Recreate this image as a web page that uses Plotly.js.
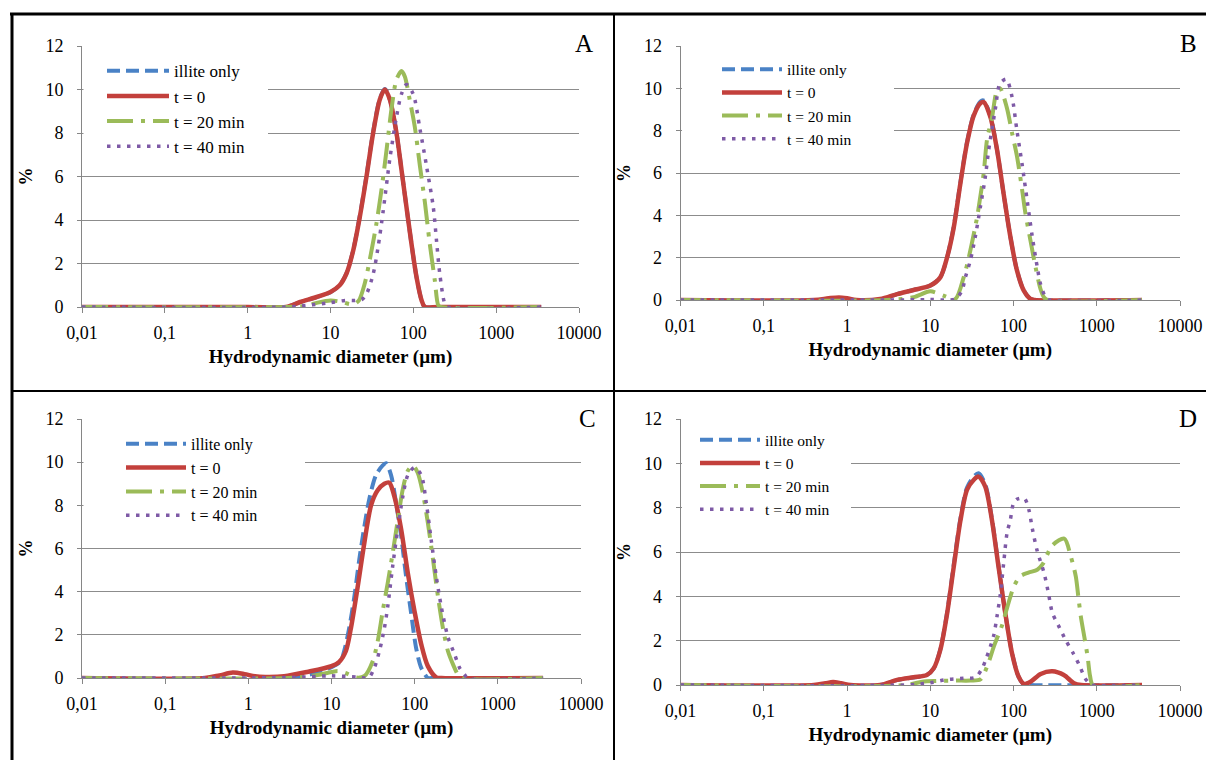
<!DOCTYPE html>
<html>
<head>
<meta charset="utf-8">
<script src="https://cdn.plot.ly/plotly-3.0.1.min.js"></script>
<style>
  html, body { margin: 0; padding: 0; background: #ffffff; }
  #chart { width: 1206px; height: 760px; }
</style>
</head>
<body>
<div id="chart"></div>
<script>
// ---------------- DATA ----------------
const seriesNames = ['illite only', 't = 0', 't = 20 min', 't = 40 min'];
const panelLabels = ['A', 'B', 'C', 'D'];
const xTickVals = [0.01, 0.1, 1, 10, 100, 1000, 10000];
const xTickText = ['0,01', '0,1', '1', '10', '100', '1000', '10000'];
const yTickVals = [0, 2, 4, 6, 8, 10, 12];
const xTitleText = 'Hydrodynamic diameter (µm)';
const yTitleText = '%';

// Panel A
const A_illite_x = [0.01, 1, 2.9, 4.3, 6.8, 10, 12.9, 15.6, 18.8, 22.6, 27.2, 32.7, 39.4, 45.3, 52, 62.6, 72, 82.6, 95, 109, 126, 138, 200, 3500];
const A_illite_y = [0, 0, 0, 0.22, 0.45, 0.68, 1.0, 1.55, 2.62, 4.2, 6.05, 8.05, 9.58, 10.02, 9.55, 8.0, 6.3, 4.6, 2.9, 1.4, 0.3, 0, 0, 0];
const A_t0_x = [0.01, 1, 2.9, 4.3, 6.8, 10, 12.9, 15.6, 18.8, 22.6, 27.2, 32.7, 39.4, 45.3, 52, 62.6, 72, 82.6, 95, 109, 126, 138, 200, 3500];
const A_t0_y = [0, 0, 0, 0.23, 0.46, 0.69, 1.0, 1.54, 2.6, 4.15, 6.0, 8.0, 9.54, 10.0, 9.54, 8.0, 6.3, 4.6, 2.9, 1.4, 0.3, 0, 0, 0];
const A_t20_x = [0.01, 3, 5, 7, 10, 13, 18.8, 22, 25.9, 31.3, 35.9, 41.3, 47.4, 54.5, 62.6, 72, 78.9, 90.7, 104, 120, 138, 158, 182, 200, 215, 3500];
const A_t20_y = [0, 0, 0.05, 0.2, 0.3, 0.25, 0.12, 0.3, 1.08, 2.6, 3.85, 5.4, 7.2, 9.1, 10.46, 10.85, 10.6, 9.5, 8.3, 6.5, 4.8, 2.9, 1.2, 0.08, 0, 0];
const A_t40_x = [0.01, 3, 6, 10, 15, 20, 24, 27.2, 32.7, 37.7, 43.2, 52, 63, 72, 82.8, 99.5, 120, 144, 174, 191, 209, 240, 260, 3500];
const A_t40_y = [0, 0, 0.1, 0.2, 0.3, 0.3, 0.35, 0.6, 1.5, 2.8, 4.4, 6.8, 8.8, 9.8, 10.23, 9.8, 8.2, 6.5, 4.6, 3.0, 1.5, 0.15, 0, 0];

// Panel B
const B_illite_x = [0.01, 2.5, 4, 6.3, 10, 13.2, 15.9, 19.1, 23, 27.6, 33.2, 40, 43.9, 52.7, 63.4, 76.2, 91.6, 110, 133, 160, 180, 3500];
const B_illite_y = [0, 0.03, 0.28, 0.47, 0.68, 1.07, 2.0, 3.45, 5.55, 7.45, 8.75, 9.38, 9.42, 8.7, 7.1, 5.0, 3.0, 1.4, 0.44, 0.05, 0, 0];
const B_t0_x = [0.01, 0.4, 0.6, 0.8, 1.0, 1.3, 2.5, 4, 6.3, 10, 13.2, 15.9, 19.1, 23, 27.6, 33.2, 40, 43.9, 52.7, 63.4, 76.2, 91.6, 110, 133, 160, 180, 3500];
const B_t0_y = [0, 0, 0.08, 0.12, 0.08, 0, 0.05, 0.28, 0.47, 0.68, 1.07, 2.0, 3.4, 5.5, 7.4, 8.7, 9.3, 9.35, 8.65, 7.1, 5.0, 3.0, 1.4, 0.44, 0.05, 0, 0];
const B_t20_x = [0.01, 3, 6.3, 10, 14.5, 20, 25.2, 29, 36.5, 40, 43.9, 48, 55.3, 63.4, 69, 83, 96, 110, 127, 139, 160, 184, 211, 232, 255, 3500];
const B_t20_y = [0, 0, 0.13, 0.41, 0.2, 0.05, 1.07, 2.0, 3.9, 4.9, 6.0, 7.55, 8.65, 9.9, 10.0, 9.1, 7.9, 6.8, 5.2, 4.1, 2.8, 1.55, 0.52, 0.13, 0, 0];
const B_t40_x = [0.01, 3, 10, 20, 24, 26.4, 30.3, 34.8, 40, 45.8, 50.4, 60.4, 69, 82, 96, 110, 127, 146, 168, 193, 211, 243, 270, 3500];
const B_t40_y = [0, 0, 0.02, 0.05, 0.44, 1.07, 1.86, 3.0, 4.4, 5.8, 7.1, 9.0, 10.24, 10.43, 9.6, 8.0, 6.4, 4.7, 3.0, 1.55, 0.76, 0.13, 0, 0];

// Panel C
const C_illite_x = [0.01, 3, 6, 10, 12.9, 14.2, 16.3, 18.8, 21.6, 24.8, 28.5, 34.3, 41.3, 45.3, 52, 59.8, 68.7, 78.9, 90.7, 104, 120, 144, 160, 3500];
const C_illite_y = [0, 0, 0.2, 0.5, 0.78, 1.25, 2.3, 3.75, 5.5, 7.0, 8.3, 9.4, 9.85, 9.95, 9.4, 8.1, 6.6, 4.7, 3.0, 1.4, 0.47, 0, 0, 0];
const C_t0_x = [0.01, 0.3, 0.45, 0.65, 0.9, 1.2, 1.6, 2.7, 5.1, 10, 12.4, 14.9, 17.1, 20.6, 24.8, 29.9, 35.9, 43.2, 49.6, 57.1, 68.7, 82.8, 99.5, 120, 144, 182, 210, 3500];
const C_t0_y = [0, 0, 0.12, 0.25, 0.18, 0.08, 0.05, 0.08, 0.28, 0.55, 0.75, 1.25, 2.3, 4.2, 6.25, 8.0, 8.7, 9.0, 9.05, 8.4, 6.9, 4.85, 3.1, 1.56, 0.55, 0.03, 0, 0];
const C_t20_x = [0.01, 3, 6, 10, 12, 15, 20, 25, 31.3, 35.9, 41.3, 47.4, 54.5, 62.6, 72, 82.8, 95, 109, 125, 144, 166, 191, 219, 251, 289, 332, 370, 3500];
const C_t20_y = [0, 0, 0.1, 0.28, 0.32, 0.22, 0.02, 0.1, 0.78, 1.7, 3.1, 4.4, 5.8, 7.3, 8.75, 9.6, 9.85, 9.5, 8.6, 7.2, 5.5, 3.75, 2.3, 1.25, 0.63, 0.15, 0, 0];
const C_t40_x = [0.01, 3, 10, 20, 28, 32.7, 37.7, 43.2, 47.4, 54.5, 62.6, 72, 82.8, 99.5, 120, 138, 158, 182, 209, 251, 302, 347, 398, 430, 3500];
const C_t40_y = [0, 0.02, 0.1, 0.05, 0.02, 0.47, 1.25, 2.3, 3.3, 5.2, 6.9, 8.4, 9.4, 9.75, 9.4, 8.1, 6.4, 4.7, 3.3, 1.9, 1.1, 0.47, 0.16, 0, 0];

// Panel D
const D_illite_x = [0.01, 2.5, 4, 6.3, 9.1, 11, 13.2, 15.9, 19.1, 23, 27.6, 33.2, 38, 45.8, 55, 66, 80, 96, 115, 133, 160, 3500];
const D_illite_y = [0, 0, 0.22, 0.34, 0.45, 0.75, 1.6, 3.25, 5.4, 7.5, 8.9, 9.4, 9.55, 9.05, 7.5, 5.4, 3.2, 1.45, 0.38, 0.03, 0, 0];
const D_t0_x = [0.01, 0.4, 0.55, 0.68, 0.85, 1.1, 2.5, 4, 6.3, 9.1, 11, 13.2, 15.9, 19.1, 23, 27.6, 33.2, 38, 45.8, 55, 66, 80, 96, 115, 133, 160, 212, 293, 403, 533, 650, 3500];
const D_t0_y = [0, 0, 0.08, 0.13, 0.08, 0, 0, 0.23, 0.35, 0.45, 0.75, 1.58, 3.2, 5.3, 7.4, 8.8, 9.25, 9.4, 8.95, 7.45, 5.35, 3.2, 1.43, 0.38, 0.05, 0.15, 0.5, 0.62, 0.45, 0.08, 0, 0];
const D_t20_x = [0.01, 5, 8, 12, 20, 30, 40, 50, 58, 73, 84, 101, 120, 151, 193, 224, 293, 407, 488, 560, 600, 643, 707, 777, 830, 900, 3500];
const D_t20_y = [0, 0, 0.15, 0.18, 0.2, 0.2, 0.25, 1.0, 1.73, 2.7, 3.5, 4.44, 4.9, 5.07, 5.2, 5.45, 6.3, 6.6, 5.8, 4.9, 4.0, 3.1, 2.2, 1.28, 0.42, 0, 0];
const D_t40_x = [0.01, 5, 10, 16, 25, 35, 42, 47, 52.7, 58, 63.4, 69.5, 76.2, 83.6, 91.6, 100, 110, 135, 153, 168, 191, 235, 264, 293, 345, 427, 527, 617, 725, 809, 850, 3500];
const D_t40_y = [0, 0, 0.1, 0.25, 0.3, 0.35, 0.75, 1.2, 1.73, 2.25, 3.1, 4.1, 5.5, 6.85, 7.45, 8.2, 8.38, 8.42, 7.9, 7.07, 6.1, 5.0, 4.1, 3.25, 2.7, 2.0, 1.4, 0.9, 0.3, 0.08, 0, 0];

// ---------------- STYLE / LAYOUT ----------------
const W = 1206, H = 760;
const FONT = "'Liberation Serif', 'Times New Roman', serif";
const px = v => v / W;
const py = v => 1 - v / H;

const styles = [
  { color: '#4a82c6', width: 4, dash: '13px,6px' },
  { color: '#c3403c', width: 4.5, dash: 'solid' },
  { color: '#9bbb59', width: 4, dash: '26px,8px,4px,8px' },
  { color: '#7e5aa6', width: 3.5, dash: '3.5px,6.5px' }
];

// panel geometry in pixels
const panels = [
  { l: 82, r: 579, t: 46, b: 307, legX: 102, legY: 53.3, legW: 62, legF: 17, cover: [83.5, 268, 50, 170], lab: [584, 43], cut: [557, 582, 46] },
  { l: 680.5, r: 1180, t: 46, b: 300, legX: 717, legY: 52.7, legW: 60, legF: 15.5, cover: [682, 894, 50, 166], lab: [1188, 43], cut: [1163, 1183, 46] },
  { l: 82, r: 581, t: 419, b: 678, legX: 121, legY: 426.9, legW: 60, legF: 16, cover: [83.5, 305, 423, 545], lab: [587, 418], cut: [560, 584, 419] },
  { l: 680.5, r: 1180, t: 419, b: 685, legX: 695, legY: 423.2, legW: 60, legF: 15.5, cover: [682, 851, 423, 548], lab: [1188, 418], cut: [1162, 1183, 419] }
];

const panelData = [
  [[A_illite_x, A_illite_y], [A_t0_x, A_t0_y], [A_t20_x, A_t20_y], [A_t40_x, A_t40_y]],
  [[B_illite_x, B_illite_y], [B_t0_x, B_t0_y], [B_t20_x, B_t20_y], [B_t40_x, B_t40_y]],
  [[C_illite_x, C_illite_y], [C_t0_x, C_t0_y], [C_t20_x, C_t20_y], [C_t40_x, C_t40_y]],
  [[D_illite_x, D_illite_y], [D_t0_x, D_t0_y], [D_t20_x, D_t20_y], [D_t40_x, D_t40_y]]
];

const traces = [];
const layout = {
  width: W, height: H,
  margin: { l: 0, r: 0, t: 0, b: 0, pad: 0 },
  paper_bgcolor: '#ffffff', plot_bgcolor: '#ffffff',
  font: { family: FONT, color: '#000000' },
  annotations: [],
  shapes: []
};

panels.forEach((p, i) => {
  const n = i === 0 ? '' : String(i + 1);
  const legName = 'legend' + n;
  panelData[i].forEach((d, s) => {
    traces.push({
      type: 'scatter', mode: 'lines',
      x: d[0], y: d[1],
      name: seriesNames[s],
      xaxis: 'x' + n, yaxis: 'y' + n,
      legend: legName,
      line: { color: styles[s].color, width: styles[s].width, dash: styles[s].dash, shape: 'spline', smoothing: 0.8 },
      hoverinfo: 'skip'
    });
  });
  layout['xaxis' + n] = {
    type: 'log', range: [-2, 4], domain: [px(p.l), px(p.r)], anchor: 'y' + n,
    tickmode: 'array', tickvals: xTickVals, ticktext: xTickText,
    ticks: 'outside', ticklen: 5, tickwidth: 1, tickcolor: '#868686',
    showline: true, linecolor: '#868686', linewidth: 1,
    showgrid: false, zeroline: false,
    tickfont: { family: FONT, size: 18, color: '#000' },
    ticklabelstandoff: 4,
    title: { text: xTitleText, font: { family: FONT, size: 19, color: '#000', weight: 'bold' }, standoff: 8 },
    fixedrange: true
  };
  layout['yaxis' + n] = {
    range: [0, 12], domain: [py(p.b), py(p.t)], anchor: 'x' + n,
    tickmode: 'array', tickvals: yTickVals,
    ticks: 'outside', ticklen: 4, tickwidth: 1, tickcolor: '#868686',
    showline: true, linecolor: '#868686', linewidth: 1,
    showgrid: true, gridcolor: '#8c8c8c', gridwidth: 1, zeroline: false,
    tickfont: { family: FONT, size: 18, color: '#000' },
    ticklabelstandoff: 10,
    title: { text: yTitleText, font: { family: FONT, size: 18, color: '#000', weight: 'bold' }, standoff: 8 },
    fixedrange: true
  };
  layout[legName] = {
    x: px(p.legX), xanchor: 'left', y: py(p.legY), yanchor: 'top',
    bgcolor: 'rgba(255,255,255,0)', borderwidth: 0,
    font: { family: FONT, size: p.legF, color: '#000' },
    itemwidth: p.legW, tracegroupgap: 0, traceorder: 'normal'
  };
  // white area behind the legend (hides gridlines there, as in the reference)
  layout.shapes.push({
    type: 'rect', xref: 'paper', yref: 'paper', layer: 'above',
    x0: px(p.cover[0]), x1: px(p.cover[1]), y0: py(p.cover[3]), y1: py(p.cover[2]),
    fillcolor: '#ffffff', line: { width: 0 }
  });
  // cut top gridline before the panel letter
  layout.shapes.push({
    type: 'rect', xref: 'paper', yref: 'paper', layer: 'above',
    x0: px(p.cut[0]), x1: px(p.cut[1]), y0: py(p.cut[2] + 3), y1: py(p.cut[2] - 3),
    fillcolor: '#ffffff', line: { width: 0 }
  });
  layout.annotations.push({
    xref: 'paper', yref: 'paper', x: px(p.lab[0]), y: py(p.lab[1]),
    xanchor: 'center', yanchor: 'middle', showarrow: false,
    text: panelLabels[i], font: { family: FONT, size: 25, color: '#000' }
  });
});

// figure frame: outer border and panel dividers
const frame = [
  [10, 14, 1206, 14, 3],
  [12, 14, 12, 760, 3],
  [614, 14, 614, 760, 2],
  [12, 391, 1206, 391, 2]
];
frame.forEach(f => layout.shapes.push({
  type: 'line', xref: 'paper', yref: 'paper', layer: 'above',
  x0: px(f[0]), y0: py(f[1]), x1: px(f[2]), y1: py(f[3]),
  line: { color: '#000000', width: f[4] }
}));

Plotly.newPlot('chart', traces, layout, { displayModeBar: false, staticPlot: true });
</script>
</body>
</html>
